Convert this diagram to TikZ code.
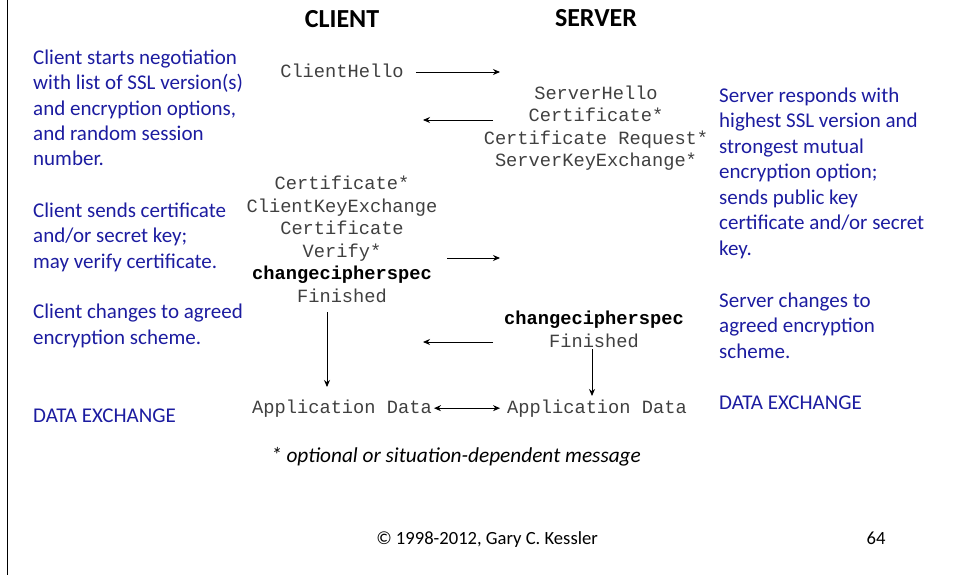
\documentclass[tikz,border=0pt]{standalone}
\usepackage{fontspec}
\setmainfont{Carlito}
\setmonofont{Liberation Mono}
\usetikzlibrary{arrows.meta,positioning}
\definecolor{notecol}{RGB}{28,28,160}
\definecolor{msgcol}{RGB}{64,64,64}

\begin{document}
\begin{tikzpicture}[x=1pt,y=-1pt,
  head/.style={inner sep=0pt,anchor=base,font=\bfseries\fontsize{26}{30}\selectfont},
  note/.style={inner sep=0pt,anchor=base west,align=left,text=notecol,font=\fontsize{21}{25.5}\selectfont},
  msgtext/.style={inner sep=0pt,anchor=base,align=center,text=msgcol,font=\ttfamily\fontsize{18.7}{22.5}\selectfont},
  msg/.style={-{Stealth[length=7pt,width=6pt]},line width=0.9pt},
  foot/.style={inner sep=0pt,anchor=base,font=\fontsize{18.6}{22}\selectfont}]
\useasboundingbox (0,0) rectangle (964,575);
\draw[line width=1.5pt] (7.5,0) -- (7.5,575);

% Column headings
\node[head] (client) at (342,28) {CLIENT};
\node[head] (server) at (596,27) {SERVER};

% Messages (base = last line)
\node[msgtext] (hello) at (342,78) {ClientHello};
\node[msgtext] (srvhello) at (596,167) {ServerHello\\Certificate*\\Certificate Request*\\ServerKeyExchange*};
\node[msgtext] (clikey) at (342,302) {Certificate*\\ClientKeyExchange\\Certificate\\Verify*\\{\color{black}\bfseries changecipherspec}\\Finished};
\node[msgtext] (srvfin) at (594,347) {{\color{black}\bfseries changecipherspec}\\Finished};
\node[msgtext] (appcli) at (342,413) {Application Data};
\node[msgtext] (appsrv) at (597,413) {Application Data};

% Notes
\node[note] (n1) at (33,166) {Client starts negotiation\\with list of SSL version(s)\\and encryption options,\\and random session\\number.};
\node[note] (n2) at (33,268) {Client sends certificate\\and/or secret key;\\may verify certificate.};
\node[note] (n3) at (33,344) {Client changes to agreed\\encryption scheme.};
\node[note] (n4) at (33,422) {DATA EXCHANGE};
\node[note] (n5) at (719,255) {Server responds with\\highest SSL version and\\strongest mutual\\encryption option;\\sends public key\\certificate and/or secret\\key.};
\node[note] (n6) at (719,358) {Server changes to\\agreed encryption\\scheme.};
\node[note] (n7) at (719,409) {DATA EXCHANGE};

\node[foot,font=\itshape\fontsize{21.3}{25}\selectfont] (optional) at (456,462) {* optional or situation-dependent message};
\node[foot] (copy) at (487,544) {© 1998-2012, Gary C. Kessler};
\node[foot] (page) at (876,544) {64};

% Arrows
\coordinate (helloto) at (500,72);
\coordinate (srvto) at (423,120);
\coordinate (srvfrom) at (493,120);
\coordinate (clifrom) at (447,258);
\coordinate (clito) at (500,258);
\coordinate (finfrom) at (493,342);
\coordinate (finto) at (423,342);
\coordinate (clidown) at (327,387);
\coordinate (srvdown) at (592,396);
\draw[msg,shorten <=12pt] (hello.east |- helloto) -- (helloto);
\draw[msg] (srvfrom) -- (srvto);
\draw[msg] (clifrom) -- (clito);
\draw[msg] (finfrom) -- (finto);
\draw[msg] (clikey.south -| clidown) ++(0,10) -- (clidown);
\draw[msg] (srvfin.south -| srvdown) ++(0,2) -- (srvdown);
\draw[{Stealth[length=7pt,width=6pt]}-{Stealth[length=7pt,width=6pt]},line width=0.9pt] ([xshift=2pt]appcli.east) -- ([xshift=-7pt]appsrv.west);
\end{tikzpicture}
\end{document}
